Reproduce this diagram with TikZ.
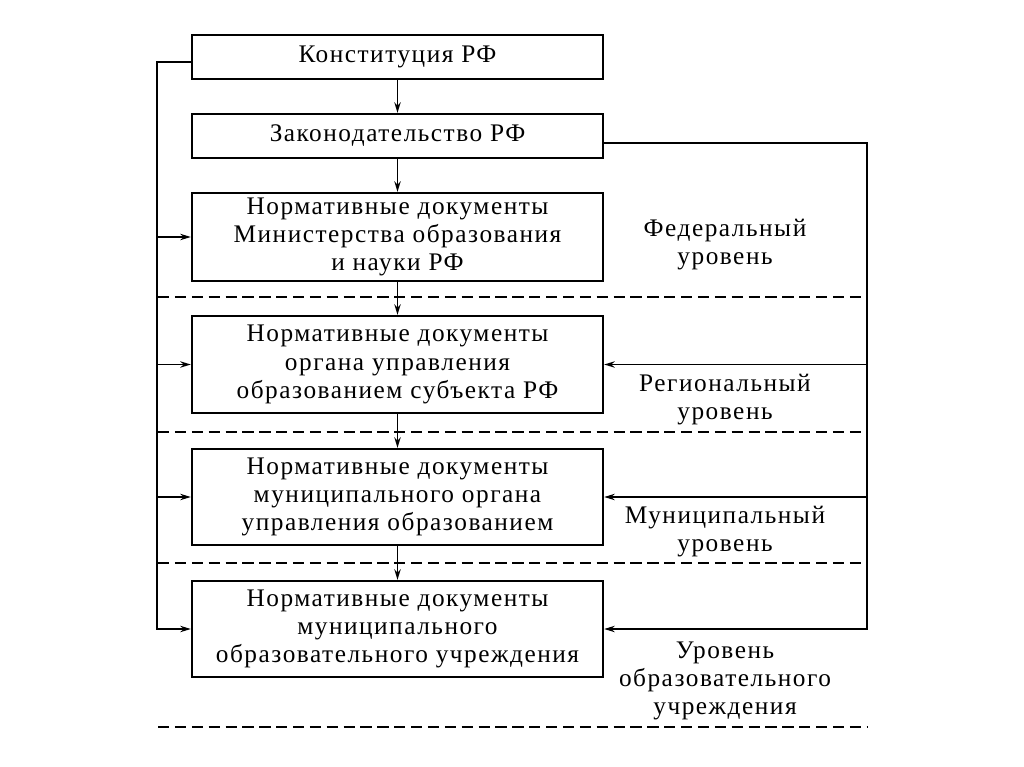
\documentclass[tikz,border=0pt]{standalone}
\usepackage{fontspec}
\setmainfont{Liberation Serif}[LetterSpace=6]
\usetikzlibrary{arrows.meta}

\begin{document}
\begin{tikzpicture}[x=0.025cm,y=-0.025cm,
    box/.style={draw,line width=1.6pt,minimum width=10.275cm,align=center,inner sep=0pt,font=\fontsize{18}{20}\selectfont},
    lvl/.style={align=center,font=\fontsize{18}{20}\selectfont},
    link/.style={line width=1.3pt,-{Stealth[length=7.5pt,width=4.5pt]}},
    sep/.style={line width=1pt,dash pattern=on 8pt off 4pt}]
  \useasboundingbox[fill=white] (0,0) rectangle (1024,767);

  % boxes
  \node[box,minimum height=1.1cm] (konst) at (397.5,57) {Конституция РФ};
  \node[box,minimum height=1.1cm] (zakon) at (397.5,136) {Законодательство РФ};
  \node[box,minimum height=2.2cm] (minobr) at (397.5,237) {Нормативные документы\\Министерства образования\\и науки РФ};
  \node[box,minimum height=2.425cm] (region) at (397.5,364.5) {Нормативные документы\\органа управления\\образованием субъекта РФ};
  \node[box,minimum height=2.4cm] (munic) at (397.5,497) {Нормативные документы\\муниципального органа\\управления образованием};
  \node[box,minimum height=2.4cm] (school) at (397.5,629) {Нормативные документы\\муниципального\\образовательного учреждения};

  % levels
  \node[lvl] (fed) at (725,245) {Федеральный\\уровень};
  \node[lvl] (reg) at (725,400) {Региональный\\уровень};
  \node[lvl] (mun) at (725,532) {Муниципальный\\уровень};
  \node[lvl] (edu) at (725,681) {Уровень\\образовательного\\учреждения};

  % dashed borders
  \draw[sep] (158,297) -- (868,297);
  \draw[sep] (158,432) -- (868,432);
  \draw[sep] (158,563) -- (868,563);
  \draw[sep] (158,727) -- (868,727);

  % main chain
  \draw[link] (konst) -- (zakon);
  \draw[link] (zakon) -- (minobr);
  \draw[link] (minobr) -- (region);
  \draw[link] (region) -- (munic);
  \draw[link] (munic) -- (school);

  % side buses
  \coordinate (lbus) at (157,0);
  \coordinate (rbus) at (867,0);
  \draw[link] ([yshift=-0.125cm]konst.west) -| (lbus |- school.west) -- (school.west);
  \draw[link] (lbus |- minobr.west) -- (minobr.west);
  \draw[link] (lbus |- region.west) -- (region.west);
  \draw[link] (lbus |- munic.west) -- (munic.west);
  \draw[link] ([yshift=-0.175cm]zakon.east) -| (rbus |- school.east) -- (school.east);
  \draw[link] (rbus |- region.east) -- (region.east);
  \draw[link] (rbus |- munic.east) -- (munic.east);
\end{tikzpicture}
\end{document}
